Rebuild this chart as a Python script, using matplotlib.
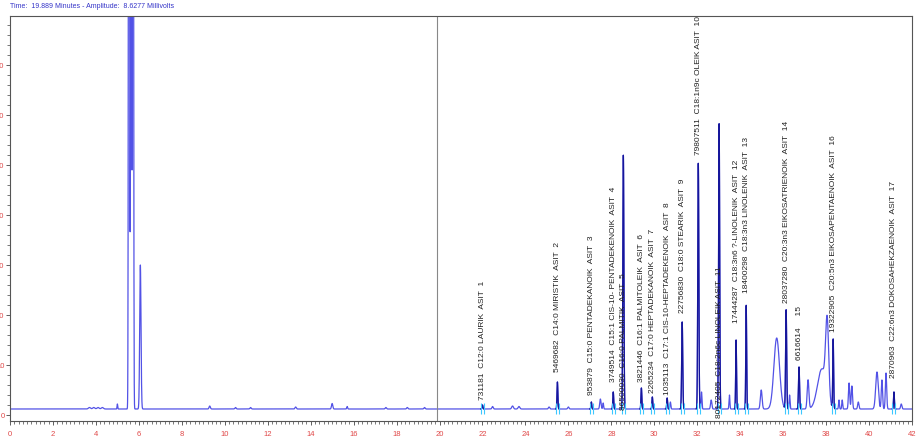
import numpy as np
import matplotlib.pyplot as plt
from matplotlib.ticker import MultipleLocator

plt.rcParams['font.family'] = ['Liberation Sans', 'DejaVu Sans']

# retention time (min), height above baseline (mV), peak width sigma (min)
peak_names = ["731181  C12:0 LAURIK  ASIT  1",
              "5469682  C14:0 MIRISTIK  ASIT  2",
              "953879  C15:0 PENTADEKANOIK  ASIT  3",
              "3749514  C15:1 CIS-10- PENTADEKENOIK  ASIT  4",
              "86500030  C16:0 PALMITIK  ASIT  5",
              "3821446  C16:1 PALMITOLEIK  ASIT  6",
              "2265234  C17:0 HEPTADEKANOIK  ASIT  7",
              "1035113  C17:1 CIS-10-HEPTADEKENOIK  ASIT  8",
              "22756830  C18:0 STEARIK  ASIT  9",
              "79807511  C18:1n9c OLEIK ASIT  10",
              "80172405  C18:2n6c LINOLEIK ASIT  11",
              "17444287  C18:3n6 ?-LINOLENIK  ASIT  12",
              "18400298  C18:3n3 LINOLENIK  ASIT  13",
              "28037280  C20:3n3 EIKOSATRIENOIK  ASIT  14",
              "6616614     15",
              "19322905  C20:5n3 EIKOSAPENTAENOIK  ASIT  16",
              "2870963  C22:6n3 DOKOSAHEKZAENOIK  ASIT  17"]
peak_times = [22.0, 25.49, 27.07, 28.09, 28.56, 29.40, 29.91, 30.60, 31.30,
              32.05, 33.02, 33.81, 34.28, 36.14, 36.74, 38.33, 41.16]
peak_heights = [0.8, 5.4, 1.4, 3.4, 50.8, 4.2, 2.4, 2.2, 17.4,
                49.2, 57.2, 13.8, 20.8, 19.8, 8.4, 13.8, 3.4]
peak_sigmas = [0.02, 0.02, 0.02, 0.02, 0.025, 0.02, 0.02, 0.02, 0.025,
               0.025, 0.025, 0.02, 0.02, 0.025, 0.025, 0.02, 0.02]
# where each name starts (mV)
label_base = [3.0, 8.6, 4.0, 6.6, 1.0, 6.6, 4.4, 4.0, 20.4,
              52.0, -0.6, 18.4, 24.4, 22.4, 11.0, 16.6, 7.4]

# unnamed peaks: solvent front and small/broad peaks
other_times = [5.0, 5.54, 5.64, 5.73, 6.07, 3.7, 3.9, 4.1, 4.3, 9.3, 10.5, 11.2,
               13.3, 15.0, 15.7, 17.5, 18.5, 19.3,
               22.47, 23.4, 23.7, 25.1, 26.0, 27.49, 27.62, 30.75, 32.2,
               32.65, 33.5, 34.98, 35.7, 36.3, 37.16, 37.8, 38.05, 38.6,
               38.75, 39.07, 39.2, 39.5, 40.37, 40.6, 40.79, 41.5]
other_heights = [1.0, 300.0, 90.0, 250.0, 28.8, 0.3, 0.3, 0.3, 0.3, 0.6, 0.3, 0.3,
                 0.4, 1.1, 0.5, 0.3, 0.3, 0.3,
                 0.5, 0.6, 0.5, 0.4, 0.4, 2.0, 1.2, 1.4, 3.4,
                 1.8, 2.8, 3.8, 14.2, 2.8, 5.8, 8.0, 15.0, 1.8,
                 1.8, 5.2, 4.6, 1.4, 7.4, 5.8, 7.2, 1.0]
other_sigmas = [0.015, 0.02, 0.03, 0.02, 0.03, 0.05, 0.05, 0.05, 0.05, 0.03, 0.03, 0.03,
                0.03, 0.03, 0.02, 0.03, 0.03, 0.03,
                0.03, 0.04, 0.04, 0.03, 0.03, 0.03, 0.02, 0.02, 0.02,
                0.03, 0.02, 0.04, 0.13, 0.02, 0.04, 0.2, 0.07, 0.02,
                0.02, 0.03, 0.03, 0.03, 0.06, 0.03, 0.03, 0.03]

baseline = 1.2
cursor_time = 19.889
cursor_amp = 8.6277


def gauss(t, t0, h, s):
    return h * np.exp(-0.5 * ((t - t0) / s) ** 2)


t = np.linspace(0, 42, 12000)
signal = np.full_like(t, baseline)
for t0, h, s in zip(peak_times + other_times, peak_heights + other_heights,
                    peak_sigmas + other_sigmas):
    signal += gauss(t, t0, h, s)

fig = plt.figure(figsize=(9.18, 4.42), dpi=100)
ax = fig.add_axes([10 / 918, 21 / 442, 902 / 918, 405 / 442])

ax.plot(t, signal, color='#5252e6', lw=0.9)

# darker trace over the integrated peaks
for t0, s in zip(peak_times, peak_sigmas):
    m = np.abs(t - t0) < 4 * s
    ax.plot(t[m], signal[m], color='#16169a', lw=0.9)

# integration start/end marks
marks = [p - 0.07 for p in peak_times] + [p + 0.07 for p in peak_times]
ax.vlines(marks, baseline - 1.0, baseline + 1.2, color='#3cc8ff', lw=0.8)

for name, t0, yb in zip(peak_names, peak_times, label_base):
    ax.text(t0, yb, name, rotation=90, ha='center', va='bottom',
            fontsize=6, color='#222222', clip_on=False)

ax.axvline(cursor_time, color='#888888', lw=0.8)

ax.set_xlim(0, 42)
ax.set_ylim(-1.2, 79.8)

ax.xaxis.set_major_locator(MultipleLocator(2))
ax.xaxis.set_minor_locator(MultipleLocator(0.2))
ax.yaxis.set_major_locator(MultipleLocator(10))
ax.yaxis.set_minor_locator(MultipleLocator(2))
ax.tick_params(axis='both', which='major', length=3, width=0.6,
               labelsize=5.5, labelcolor='#e04848', color='#444444', pad=4)
ax.tick_params(axis='both', which='minor', length=2, width=0.5, color='#444444')
ax.tick_params(axis='y', pad=1)

for sp in ax.spines.values():
    sp.set_color('#555555')
    sp.set_linewidth(0.8)

fig.text(10 / 918, 1 - 6 / 442,
         "Time:  {0} Minutes - Amplitude:  {1} Millivolts".format(cursor_time, cursor_amp),
         fontsize=5, color='#3434c8', va='center', ha='left')

fig.savefig('out.png', dpi=100)
